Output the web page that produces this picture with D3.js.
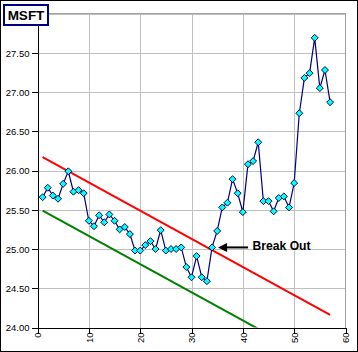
<!DOCTYPE html>
<html>
<head>
<meta charset="utf-8">
<script src="https://cdn.jsdelivr.net/npm/d3@7/dist/d3.min.js"></script>
<style>
  html, body { margin: 0; padding: 0; background: #ffffff; }
  svg { display: block; }
</style>
</head>
<body>
<script>
// ---- data ----
const days = [1,2,3,4,5,6,7,8,9,10,11,12,13,14,15,16,17,18,19,20,
  21,22,23,24,25,26,27,28,29,30,31,32,33,34,35,36,37,38,39,40,
  41,42,43,44,45,46,47,48,49,50,51,52,53,54,55,56,57];
const prices = [25.66,25.78,25.68,25.64,25.83,25.99,25.73,25.75,25.71,25.36,
  25.29,25.43,25.34,25.44,25.36,25.25,25.28,25.19,24.98,24.98,
  25.05,25.10,25.00,25.24,24.98,25.00,25.00,25.02,24.77,24.64,
  24.91,24.64,24.59,25.02,25.23,25.53,25.59,25.89,25.71,25.47,
  26.08,26.12,26.36,25.61,25.61,25.48,25.65,25.67,25.53,25.84,
  26.73,27.18,27.24,27.69,27.05,27.28,26.87];
const upperChannelX = [1, 57];
const upperChannelY = [26.17, 24.16];
const lowerChannelX = [1, 57];
const lowerChannelY = [25.49, 23.48];
const xTicks = [0,10,20,30,40,50,60];
const yTicks = [24.0,24.5,25.0,25.5,26.0,26.5,27.0,27.5,28.0];
const yTickLabels = ["24.00","24.50","25.00","25.50","26.00","26.50","27.00","27.50",""];
const titleText = "MSFT";
const annotationText = "Break Out";
const annotationDay = 34;

// ---- layout ----
const W = 358, H = 352;
const pL = 37.5, pR = 345.5, pT = 13.5, pB = 327.5;
const x = d3.scaleLinear().domain([0, 60]).range([pL, pR]);
const y = d3.scaleLinear().domain([24, 28]).range([pB, pT]);

const svg = d3.select("body").append("svg").attr("width", W).attr("height", H);
svg.append("rect").attr("x",0).attr("y",0).attr("width",W).attr("height",H).attr("fill","#ffffff");

svg.append("defs").append("clipPath").attr("id","plotClip")
  .append("rect").attr("x", pL).attr("y", pT).attr("width", pR-pL).attr("height", pB-pT);

// gridlines
const grid = svg.append("g").attr("shape-rendering","crispEdges");
grid.selectAll("line.v").data(xTicks.filter(t => t > 0 && t < 60)).join("line")
  .attr("x1", d => Math.round(x(d)) + 0.5).attr("x2", d => Math.round(x(d)) + 0.5)
  .attr("y1", pT).attr("y2", pB).attr("stroke","#c0c0c0");
grid.selectAll("line.h").data(yTicks.filter(t => t > 24)).join("line")
  .attr("y1", d => Math.round(y(d)) + 0.5).attr("y2", d => Math.round(y(d)) + 0.5)
  .attr("x1", pL).attr("x2", pR).attr("stroke","#c0c0c0");
// plot border (right/top gray)
grid.append("line").attr("x1", pR).attr("x2", pR).attr("y1", pT).attr("y2", pB).attr("stroke","#a0a0a0");
grid.append("line").attr("x1", pL).attr("x2", pR).attr("y1", pT).attr("y2", pT).attr("stroke","#a0a0a0");

// axes
const yAxis = d3.axisLeft(y).tickValues(yTicks).tickSize(6).tickSizeOuter(0)
  .tickFormat((d,i) => yTickLabels[i]);
const gy = svg.append("g").attr("transform", `translate(${pL},0)`).call(yAxis);
gy.select(".domain").attr("stroke","#000").attr("shape-rendering","crispEdges");
gy.selectAll(".tick line").attr("stroke","#000").attr("shape-rendering","crispEdges");
gy.selectAll(".tick").filter(d => d === 28).select("line").remove();
gy.selectAll(".tick text").attr("font-family","Arial, 'Liberation Sans', sans-serif")
  .attr("font-size","9.5px").attr("fill","#000").attr("x",-8).attr("dy","0.35em");

const xAxis = d3.axisBottom(x).tickValues(xTicks).tickSize(6).tickSizeOuter(0).tickFormat(d3.format("d"));
const gx = svg.append("g").attr("transform", `translate(0,${pB})`).call(xAxis);
gx.select(".domain").attr("stroke","#000").attr("shape-rendering","crispEdges");
gx.selectAll(".tick line").attr("stroke","#000").attr("shape-rendering","crispEdges");
gx.selectAll(".tick text").attr("font-family","Arial, 'Liberation Sans', sans-serif")
  .attr("font-size","9.5px").attr("fill","#000")
  .attr("transform","rotate(-90)").attr("text-anchor","end")
  .attr("x",-5).attr("y",0).attr("dy","0.35em");

// channel lines
const plot = svg.append("g").attr("clip-path","url(#plotClip)");
const line = d3.line().x(d => x(d[0])).y(d => y(d[1]));
plot.append("path").datum(upperChannelX.map((d,i) => [d, upperChannelY[i]]))
  .attr("d", line).attr("fill","none").attr("stroke","#ff0000").attr("stroke-width",2);
plot.append("path").datum(lowerChannelX.map((d,i) => [d, lowerChannelY[i]]))
  .attr("d", line).attr("fill","none").attr("stroke","#008000").attr("stroke-width",2);

// price line
const pts = days.map((d,i) => [d, prices[i]]);
svg.append("path").datum(pts).attr("d", line).attr("fill","none")
  .attr("stroke","#000080").attr("stroke-width",1.2);

// markers
svg.append("g").selectAll("path").data(pts).join("path")
  .attr("d", d3.symbol().type(d3.symbolSquare).size(24))
  .attr("transform", d => `translate(${x(d[0])},${y(d[1])}) rotate(45)`)
  .attr("fill","#00ffff").attr("stroke","#000040").attr("stroke-width",0.9);

// annotation
const ai = days.indexOf(annotationDay);
const ax = x(annotationDay) + 6, ay = y(prices[ai]);
const ann = svg.append("g");
ann.append("line").attr("x1", ax + 6).attr("x2", ax + 30).attr("y1", ay).attr("y2", ay)
  .attr("stroke","#000").attr("stroke-width",2);
ann.append("path")
  .attr("d", `M${ax},${ay} L${ax+9},${ay-4.5} L${ax+9},${ay+4.5} Z`)
  .attr("fill","#000");
ann.append("text").attr("x", ax + 34.5).attr("y", ay + 3)
  .attr("font-family","Arial, 'Liberation Sans', sans-serif").attr("font-weight","bold")
  .attr("font-size","13px").attr("fill","#000")
  .attr("textLength", 58).attr("lengthAdjust","spacingAndGlyphs")
  .text(annotationText);

// title box
svg.append("rect").attr("x",4).attr("y",5).attr("width",44).attr("height",20)
  .attr("fill","#ffffff").attr("stroke","#000080").attr("stroke-width",2);
svg.append("text").attr("x",26).attr("y",20).attr("text-anchor","middle")
  .attr("font-family","Arial, 'Liberation Sans', sans-serif").attr("font-weight","bold")
  .attr("font-size","13.5px").attr("fill","#000").text(titleText);

// outer frame
svg.append("rect").attr("x",0.5).attr("y",0.5).attr("width",W-1).attr("height",H-1)
  .attr("fill","none").attr("stroke","#000").attr("shape-rendering","crispEdges");
</script>
</body>
</html>
